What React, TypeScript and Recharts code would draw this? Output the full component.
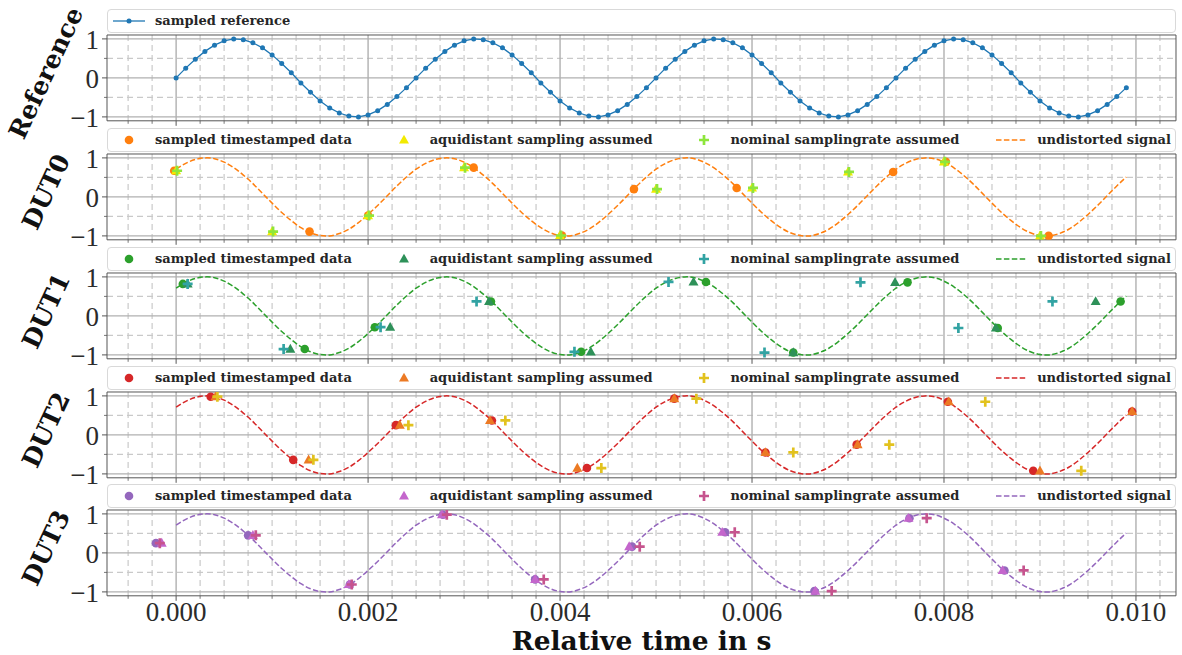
import React from "react";
import {
  ComposedChart,
  Line,
  Scatter,
  XAxis,
  YAxis,
  CartesianGrid,
  ReferenceArea,
  Legend,
} from "recharts";

// ---- data ----

// reference: sampled every 0.1 ms
const refTime = [
  0, 0.0001, 0.0002, 0.0003, 0.0004, 0.0005, 0.0006, 0.0007, 0.0008, 0.0009,
  0.001, 0.0011, 0.0012, 0.0013, 0.0014, 0.0015, 0.0016, 0.0017, 0.0018, 0.0019,
  0.002, 0.0021, 0.0022, 0.0023, 0.0024, 0.0025, 0.0026, 0.0027, 0.0028, 0.0029,
  0.003, 0.0031, 0.0032, 0.0033, 0.0034, 0.0035, 0.0036, 0.0037, 0.0038, 0.0039,
  0.004, 0.0041, 0.0042, 0.0043, 0.0044, 0.0045, 0.0046, 0.0047, 0.0048, 0.0049,
  0.005, 0.0051, 0.0052, 0.0053, 0.0054, 0.0055, 0.0056, 0.0057, 0.0058, 0.0059,
  0.006, 0.0061, 0.0062, 0.0063, 0.0064, 0.0065, 0.0066, 0.0067, 0.0068, 0.0069,
  0.007, 0.0071, 0.0072, 0.0073, 0.0074, 0.0075, 0.0076, 0.0077, 0.0078, 0.0079,
  0.008, 0.0081, 0.0082, 0.0083, 0.0084, 0.0085, 0.0086, 0.0087, 0.0088, 0.0089,
  0.009, 0.0091, 0.0092, 0.0093, 0.0094, 0.0095, 0.0096, 0.0097, 0.0098, 0.0099,
];

const refValue = [
  0, 0.25, 0.48, 0.68, 0.84, 0.95, 1, 0.98, 0.9, 0.77, 0.59, 0.37, 0.13,
  -0.13, -0.37, -0.59, -0.77, -0.9, -0.98, -1, -0.95, -0.84, -0.68, -0.48, -0.25,
  0, 0.25, 0.48, 0.68, 0.84, 0.95, 1, 0.98, 0.9, 0.77, 0.59, 0.37, 0.13,
  -0.13, -0.37, -0.59, -0.77, -0.9, -0.98, -1, -0.95, -0.84, -0.68, -0.48, -0.25,
  0, 0.25, 0.48, 0.68, 0.84, 0.95, 1, 0.98, 0.9, 0.77, 0.59, 0.37, 0.13,
  -0.13, -0.37, -0.59, -0.77, -0.9, -0.98, -1, -0.95, -0.84, -0.68, -0.48, -0.25,
  0, 0.25, 0.48, 0.68, 0.84, 0.95, 1, 0.98, 0.9, 0.77, 0.59, 0.37, 0.13,
  -0.13, -0.37, -0.59, -0.77, -0.9, -0.98, -1, -0.95, -0.84, -0.68, -0.48, -0.25,
];

// dashed "undistorted signal", same curve in all four DUT panels
const undistortedValue = [
  0.71, 0.86, 0.96, 1, 0.98, 0.89, 0.75, 0.56, 0.34, 0.09, -0.16, -0.4, -0.61,
  -0.79, -0.92, -0.99, -1, -0.94, -0.83, -0.66, -0.45, -0.22, 0.03, 0.28, 0.51,
  0.71, 0.86, 0.96, 1, 0.98, 0.89, 0.75, 0.56, 0.34, 0.09, -0.16, -0.4, -0.61,
  -0.79, -0.92, -0.99, -1, -0.94, -0.83, -0.66, -0.45, -0.22, 0.03, 0.28, 0.51,
  0.71, 0.86, 0.96, 1, 0.98, 0.89, 0.75, 0.56, 0.34, 0.09, -0.16, -0.4, -0.61,
  -0.79, -0.92, -0.99, -1, -0.94, -0.83, -0.66, -0.45, -0.22, 0.03, 0.28, 0.51,
  0.71, 0.86, 0.96, 1, 0.98, 0.89, 0.75, 0.56, 0.34, 0.09, -0.16, -0.4, -0.61,
  -0.79, -0.92, -0.99, -1, -0.94, -0.83, -0.66, -0.45, -0.22, 0.03, 0.28, 0.51,
];

// DUT0
const dut0StampTime = [-0.00002, 0.00139, 0.002, 0.0031, 0.00402, 0.00477, 0.00584, 0.00747, 0.00802, 0.00909];
const dut0EquiTime = [0, 0.001, 0.002, 0.003, 0.004, 0.005, 0.006, 0.007, 0.008, 0.009];
const dut0NomTime = [0.00001, 0.00101, 0.00201, 0.00301, 0.00401, 0.00501, 0.00601, 0.00701, 0.00801, 0.00901];
const dut0Value = [0.67, -0.89, -0.48, 0.75, -0.99, 0.2, 0.23, 0.64, 0.9, -1.0];

// DUT1
const dut1StampTime = [0.00007, 0.00134, 0.00207, 0.00328, 0.00422, 0.00552, 0.00643, 0.00762, 0.00856, 0.00984];
const dut1EquiTime = [0.00012, 0.00119, 0.00223, 0.00326, 0.00432, 0.00539, 0.00643, 0.00749, 0.00854, 0.00958];
const dut1NomTime = [0.00012, 0.00112, 0.00213, 0.00313, 0.00415, 0.00513, 0.00613, 0.00713, 0.00815, 0.00913];
const dut1Value = [0.82, -0.85, -0.29, 0.37, -0.92, 0.87, -0.94, 0.86, -0.31, 0.37];

// DUT2
const dut2StampTime = [0.00036, 0.00122, 0.00229, 0.00329, 0.00428, 0.00519, 0.00614, 0.00709, 0.00804, 0.00893, 0.00996];
const dut2EquiTime = [0.00041, 0.00138, 0.00233, 0.00327, 0.00418, 0.00519, 0.00614, 0.0071, 0.00805, 0.009, 0.00996];
const dut2NomTime = [0.00043, 0.00143, 0.00242, 0.00343, 0.00443, 0.00542, 0.00643, 0.00743, 0.00843, 0.00943];
const dut2Value = [0.98, -0.64, 0.25, 0.37, -0.85, 0.93, -0.45, -0.25, 0.85, -0.92, 0.6];

// DUT3
const dut3StampTime = [-0.00021, 0.00075, 0.00181, 0.00278, 0.00374, 0.00475, 0.00572, 0.00665, 0.00764, 0.00863];
const dut3EquiTime = [-0.00015, 0.0008, 0.0018, 0.00277, 0.00374, 0.00472, 0.00569, 0.00666, 0.00763, 0.00861];
const dut3NomTime = [-0.00017, 0.00083, 0.00183, 0.00282, 0.00383, 0.00483, 0.00582, 0.00683, 0.00782, 0.00883];
const dut3Value = [0.25, 0.45, -0.81, 0.98, -0.68, 0.16, 0.53, -0.98, 0.89, -0.45];

// ticks
const MAJOR_X = [0, 0.002, 0.004, 0.006, 0.008, 0.01];
const X_TICK_LABELS = ["0.000", "0.002", "0.004", "0.006", "0.008", "0.010"];
const MINOR_X = [
  -0.0005, -0.00025,
  0.00025, 0.0005, 0.00075, 0.001, 0.00125, 0.0015, 0.00175,
  0.00225, 0.0025, 0.00275, 0.003, 0.00325, 0.0035, 0.00375,
  0.00425, 0.0045, 0.00475, 0.005, 0.00525, 0.0055, 0.00575,
  0.00625, 0.0065, 0.00675, 0.007, 0.00725, 0.0075, 0.00775,
  0.00825, 0.0085, 0.00875, 0.009, 0.00925, 0.0095, 0.00975,
  0.01025,
];
const MAJOR_Y = [-1, 0, 1];
const Y_TICK_LABELS = ["\u22121", "0", "1"];
const MINOR_Y = [-0.5, 0.5];

const LEGEND_LABELS = [
  "sampled timestamped data",
  "aquidistant sampling assumed",
  "nominal samplingrate assumed",
  "undistorted signal",
];

// ---- layout / style ----
const X_DOMAIN = [-0.00072, 0.010417];
const Y_DOMAIN = [-1.1, 1.1];
const PANEL_TOP = [35.4, 154.1, 272.8, 391.5, 510.2];
const PLOT_H = 85.8;
const HEAD = 35;
const FONT_BOLD = "'DejaVu Serif', serif";
const FONT_TICK = "'Liberation Serif', serif";
const SPINE = "#555555";
const REF_COLOR = "#1f77b4";

const DUTS = [
  { name: "DUT0", stamp: "#ff7f0e", equi: "#f2ea00", nom: "#8ee63c", line: "#ff7f0e", st: dut0StampTime, eq: dut0EquiTime, nt: dut0NomTime, v: dut0Value },
  { name: "DUT1", stamp: "#2ca02c", equi: "#2e9159", nom: "#32a3a3", line: "#2ca02c", st: dut1StampTime, eq: dut1EquiTime, nt: dut1NomTime, v: dut1Value },
  { name: "DUT2", stamp: "#d62728", equi: "#ec7a24", nom: "#e2c21e", line: "#d62728", st: dut2StampTime, eq: dut2EquiTime, nt: dut2NomTime, v: dut2Value },
  { name: "DUT3", stamp: "#9467bd", equi: "#c466cc", nom: "#c6548e", line: "#9467bd", st: dut3StampTime, eq: dut3EquiTime, nt: dut3NomTime, v: dut3Value },
];

const rows = (ts: number[], vs: number[]) =>
  ts.filter((_, i) => i < vs.length).map((t, i) => ({ t, v: vs[i] }));

type Kind = "circle" | "triangle" | "plus";

function Marker({ kind, cx, cy, color }: { kind: Kind; cx: number; cy: number; color: string }) {
  if (kind === "circle") return <circle cx={cx} cy={cy} r={4.3} fill={color} />;
  if (kind === "triangle")
    return <path d={`M${cx},${cy - 5.3} L${cx + 5},${cy + 3.6} L${cx - 5},${cy + 3.6} Z`} fill={color} />;
  const a = 5;
  const w = 1.35;
  return (
    <path
      d={`M${cx - w},${cy - a} h${2 * w} v${a - w} h${a - w} v${2 * w} h${-(a - w)} v${a - w} h${-2 * w} v${-(a - w)} h${-(a - w)} v${-2 * w} h${a - w} Z`}
      fill={color}
    />
  );
}

const shapeOf = (kind: Kind, color: string) => (p: any) =>
  <Marker kind={kind} cx={p.cx} cy={p.cy} color={color} />;

interface LegendItem {
  label: string;
  handle: "refline" | "dash" | Kind;
  color: string;
}

function LegendBox({ items }: { items: LegendItem[] }) {
  return (
    <div
      style={{
        boxSizing: "border-box",
        width: 1069,
        height: 24,
        border: "1px solid #d9d9d9",
        borderRadius: 4,
        background: "#fff",
        display: "flex",
        alignItems: "center",
        justifyContent: items.length > 1 ? "space-between" : "flex-start",
        padding: "0 4px 0 5px",
        fontFamily: FONT_BOLD,
        fontWeight: "bold",
        fontSize: 13,
        color: "#262626",
      }}
    >
      {items.map((it) => (
        <div key={it.label} style={{ display: "flex", alignItems: "center" }}>
          <svg width={32} height={14} style={{ display: "block" }}>
            {it.handle === "refline" ? (
              <>
                <line x1={0} x2={32} y1={7} y2={7} stroke={it.color} strokeWidth={1.3} />
                <circle cx={16} cy={7} r={2.5} fill={it.color} />
              </>
            ) : it.handle === "dash" ? (
              <line x1={1} x2={31} y1={7} y2={7} stroke={it.color} strokeWidth={1.5} strokeDasharray="5.5 2.4" />
            ) : (
              <Marker kind={it.handle} cx={16} cy={7} color={it.color} />
            )}
          </svg>
          <span style={{ marginLeft: 10, whiteSpace: "nowrap", lineHeight: "14px" }}>{it.label}</span>
        </div>
      ))}
    </div>
  );
}

const XTick = (props: any) => {
  const { x, y, payload, showLabel } = props;
  const mi = MAJOR_X.indexOf(payload.value);
  const major = mi >= 0;
  return (
    <g>
      <line x1={x} x2={x} y1={y} y2={y + (major ? 5 : 3)} stroke={SPINE} strokeWidth={major ? 1 : 0.8} />
      {showLabel && major ? (
        <text x={x} y={y + 25.7} textAnchor="middle" fontFamily={FONT_TICK} fontSize={27} fill="#2b2b2b">
          {X_TICK_LABELS[mi]}
        </text>
      ) : null}
    </g>
  );
};

const YTick = (props: any) => {
  const { x, y, payload } = props;
  const mi = MAJOR_Y.indexOf(payload.value);
  const major = mi >= 0;
  return (
    <g>
      <line x1={x} x2={x - (major ? 5 : 3)} y1={y} y2={y} stroke={SPINE} strokeWidth={major ? 1 : 0.8} />
      {major ? (
        <text x={x - 8} y={y + 1} textAnchor="end" dominantBaseline="central" fontFamily={FONT_TICK} fontSize={27} fill="#2b2b2b">
          {Y_TICK_LABELS[mi]}
        </text>
      ) : null}
    </g>
  );
};

function Panel({
  index,
  name,
  legend,
  last,
  children,
}: {
  index: number;
  name: string;
  legend: LegendItem[];
  last?: boolean;
  children: React.ReactNode;
}) {
  // the strip below the plot also leaves room for the slanted y label
  const axisH = last ? 60 : 34;
  return (
    <div style={{ position: "absolute", left: 0, top: PANEL_TOP[index] - HEAD }}>
      <ComposedChart
        width={1182}
        height={HEAD + PLOT_H + axisH}
        margin={{ top: HEAD, right: 6, bottom: 0, left: 0 }}
      >
        <CartesianGrid
          verticalValues={MINOR_X}
          horizontalValues={MINOR_Y}
          stroke="#c9c9c9"
          strokeWidth={1.2}
          strokeDasharray="6 4"
        />
        <CartesianGrid
          verticalValues={MAJOR_X}
          horizontalValues={MAJOR_Y}
          stroke="#b0b0b0"
          strokeWidth={1.4}
        />
        <XAxis
          dataKey="t"
          type="number"
          domain={X_DOMAIN}
          allowDataOverflow
          ticks={[...MAJOR_X, ...MINOR_X]}
          interval={0}
          height={axisH}
          tickSize={0}
          tickMargin={0}
          axisLine={false}
          tickLine={false}
          tick={(p: any) => <XTick {...p} showLabel={!!last} />}
          label={
            last
              ? (p: any) => {
                  const vb = p.viewBox || { x: 107, y: 596, width: 1069 };
                  return (
                    <text
                      x={vb.x + vb.width / 2}
                      y={vb.y + 54}
                      textAnchor="middle"
                      fontFamily={FONT_BOLD}
                      fontWeight="bold"
                      fontSize={26.5}
                      fill="#111"
                    >
                      Relative time in s
                    </text>
                  );
                }
              : undefined
          }
        />
        <YAxis
          type="number"
          domain={Y_DOMAIN}
          allowDataOverflow
          ticks={[...MAJOR_Y, ...MINOR_Y]}
          interval={0}
          width={107}
          tickSize={0}
          tickMargin={0}
          axisLine={false}
          tickLine={false}
          tick={YTick}
          label={(p: any) => {
            const vb = p.viewBox || { x: 0, y: HEAD, width: 107, height: PLOT_H };
            const cx = vb.x + 46;
            const cy = vb.y + vb.height / 2 - 5;
            return (
              <text
                x={cx}
                y={cy}
                transform={`rotate(-65 ${cx} ${cy})`}
                textAnchor="middle"
                dominantBaseline="central"
                fontFamily={FONT_BOLD}
                fontWeight="bold"
                fontSize={25}
                fill="#111"
              >
                {name}
              </text>
            );
          }}
        />
        {children}
        <ReferenceArea
          x1={X_DOMAIN[0]}
          x2={X_DOMAIN[1]}
          y1={Y_DOMAIN[0]}
          y2={Y_DOMAIN[1]}
          fill="none"
          stroke={SPINE}
          strokeWidth={1}
          ifOverflow="visible"
        />
        <Legend
          layout="horizontal"
          verticalAlign="middle"
          align="center"
          width={1069}
          height={24}
          wrapperStyle={{ top: 9, left: 107, width: 1069, height: 24 }}
          content={() => <LegendBox items={legend} />}
        />
      </ComposedChart>
    </div>
  );
}

export default function App() {
  const refRows = rows(refTime, refValue);
  const lineRows = rows(refTime, undistortedValue);
  return (
    <div
      style={{
        position: "absolute",
        left: 0,
        top: 0,
        width: 1182,
        height: 655,
        background: "#fff",
        overflow: "hidden",
      }}
    >
      <Panel
        index={0}
        name="Reference"
        legend={[{ label: "sampled reference", handle: "refline", color: REF_COLOR }]}
      >
        <Line
          data={refRows}
          dataKey="v"
          type="linear"
          stroke={REF_COLOR}
          strokeWidth={1.3}
          dot={{ r: 2.5, fill: REF_COLOR, stroke: "none" }}
          isAnimationActive={false}
        />
      </Panel>
      {DUTS.map((d, i) => (
        <Panel
          key={d.name}
          index={i + 1}
          name={d.name}
          last={i === DUTS.length - 1}
          legend={[
            { label: LEGEND_LABELS[0], handle: "circle", color: d.stamp },
            { label: LEGEND_LABELS[1], handle: "triangle", color: d.equi },
            { label: LEGEND_LABELS[2], handle: "plus", color: d.nom },
            { label: LEGEND_LABELS[3], handle: "dash", color: d.line },
          ]}
        >
          <Scatter data={rows(d.st, d.v)} dataKey="v" shape={shapeOf("circle", d.stamp)} isAnimationActive={false} />
          <Scatter data={rows(d.eq, d.v)} dataKey="v" shape={shapeOf("triangle", d.equi)} isAnimationActive={false} />
          <Scatter data={rows(d.nt, d.v)} dataKey="v" shape={shapeOf("plus", d.nom)} isAnimationActive={false} />
          <Line
            data={lineRows}
            dataKey="v"
            type="natural"
            stroke={d.line}
            strokeWidth={1.5}
            strokeDasharray="5.5 2.4"
            dot={false}
            isAnimationActive={false}
          />
        </Panel>
      ))}
    </div>
  );
}
